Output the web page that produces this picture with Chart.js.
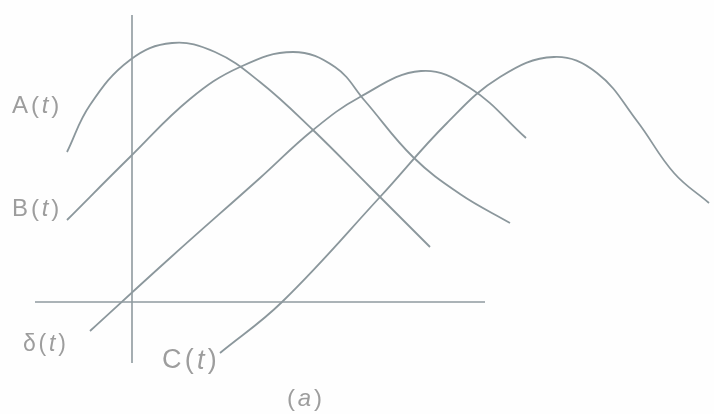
<!DOCTYPE html>
<html>
<head>
<meta charset="utf-8">
<script src="https://cdn.jsdelivr.net/npm/chart.js@4/dist/chart.umd.min.js"></script>
<style>
  body { margin: 0; background: #fff; }
  #courbes { display: block; }
</style>
</head>
<body>
<canvas id="courbes" width="714" height="414"></canvas>
<script>
// Courbes (unités arbitraires, origine = croisement des axes)
const curveA_x = [-6.5, -4.2, -0.2, 4.0, 8.3, 12.8, 18.1, 23.8, 29.8];
const curveA_y = [15.0, 19.7, 24.2, 25.9, 25.0, 22.0, 17.2, 11.5, 5.5];

const curveB_x = [-6.5, -0.2, 5.8, 10.8, 16.1, 20.3, 23.3, 28.1, 32.8, 37.8];
const curveB_y = [8.2, 14.5, 20.3, 23.5, 25.0, 23.5, 20.1, 14.5, 10.8, 7.9];

const curveD_x = [-4.2, 3.8, 12.8, 18.1, 22.8, 28.9, 33.8, 39.4];
const curveD_y = [-2.9, 4.4, 12.4, 17.2, 20.5, 23.1, 21.4, 16.4];

const curveC_x = [8.8, 15.0, 24.8, 31.5, 36.8, 42.2, 46.5, 50.5, 54.2, 57.7];
const curveC_y = [-5.1, 0.0, 10.5, 17.9, 22.5, 24.5, 22.9, 18.1, 12.9, 9.9];

// Axes dessinés
const axisH_x = [-9.7, 35.3];
const axisH_y = [0, 0];
const axisV_x = [0, 0];
const axisV_y = [28.7, -6.1];

// Etiquettes
const labelTexts = ["A(t)", "B(t)", "δ(t)", "C(t)", "(a)"];
const labelX = [-12.0, -12.0, -10.9, 3.0, 15.5];
const labelY = [19.6, 9.3, -4.3, -5.9, -9.7];

const lineColor = "#8b979c";
const textColor = "#9d9d9d";
const labelSizes = [24, 24, 23, 27, 24];

const toPoints = (xs, ys) => xs.map((x, i) => ({ x: x, y: ys[i] }));

const courbe = (xs, ys) => ({
  data: toPoints(xs, ys),
  borderColor: lineColor,
  borderWidth: 1.8,
  pointRadius: 0,
  showLine: true,
  tension: 0.4,
});

const axe = (xs, ys) => ({
  data: toPoints(xs, ys),
  borderColor: "#8f9a9f",
  borderWidth: 1.6,
  pointRadius: 0,
  showLine: true,
});

// Fond blanc
const fondBlanc = {
  id: "fondBlanc",
  beforeDraw(chart) {
    const ctx = chart.ctx;
    ctx.save();
    ctx.fillStyle = "#fefefe";
    ctx.fillRect(0, 0, chart.width, chart.height);
    ctx.restore();
  },
};

// Etiquettes écrites caractère par caractère (t et a en italique)
const etiquettes = {
  id: "etiquettes",
  afterDatasetsDraw(chart) {
    const ctx = chart.ctx;
    const sx = chart.scales.x;
    const sy = chart.scales.y;
    ctx.save();
    ctx.fillStyle = textColor;
    ctx.textBaseline = "middle";
    labelTexts.forEach((txt, i) => {
      let px = sx.getPixelForValue(labelX[i]);
      const py = sy.getPixelForValue(labelY[i]);
      const size = labelSizes[i];
      for (const ch of txt) {
        const italique = ch === "t" || ch === "a";
        ctx.font = (italique ? "italic " : "") + size + "px 'Liberation Sans', Arial, sans-serif";
        ctx.fillText(ch, px, py);
        px += ctx.measureText(ch).width + size * 0.12;
      }
    });
    ctx.restore();
  },
};

new Chart("courbes", {
  type: "scatter",
  data: {
    datasets: [
      axe(axisH_x, axisH_y),
      axe(axisV_x, axisV_y),
      courbe(curveA_x, curveA_y),
      courbe(curveB_x, curveB_y),
      courbe(curveD_x, curveD_y),
      courbe(curveC_x, curveC_y),
    ],
  },
  options: {
    responsive: false,
    animation: false,
    layout: { padding: 0 },
    plugins: {
      legend: { display: false },
      tooltip: { enabled: false },
    },
    scales: {
      x: { type: "linear", display: false, min: -13.2, max: 58.2 },
      y: { type: "linear", display: false, min: -11.2, max: 30.2 },
    },
  },
  plugins: [fondBlanc, etiquettes],
});
</script>
</body>
</html>
